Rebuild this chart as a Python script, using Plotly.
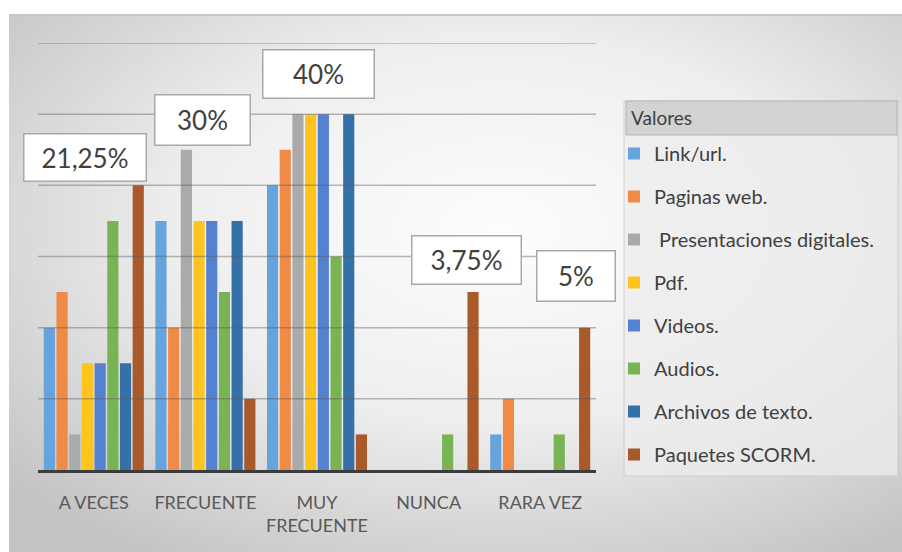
import base64
import plotly.graph_objects as go

categories = ["A VECES", "FRECUENTE", "MUY<br>FRECUENTE", "NUNCA", "RARA VEZ"]

link_url = [4, 7, 8, 0, 1]
paginas_web = [5, 4, 9, 0, 2]
presentaciones = [1, 9, 10, 0, 0]
pdf = [3, 7, 10, 0, 0]
videos = [3, 7, 10, 0, 0]
audios = [7, 5, 6, 1, 1]
archivos_texto = [3, 7, 10, 0, 0]
paquetes_scorm = [8, 2, 1, 5, 4]

series_names = ["Link/url.", "Paginas web.", " Presentaciones digitales.", "Pdf.",
                "Videos.", "Audios.", "Archivos de texto.", "Paquetes SCORM."]
series_values = [link_url, paginas_web, presentaciones, pdf, videos, audios,
                 archivos_texto, paquetes_scorm]
series_colors = ["#67a3dc", "#ef8a47", "#aaaaaa", "#fdc41f",
                 "#5582d0", "#78b454", "#3570a8", "#a9592a"]

group_labels = ["21,25%", "30%", "40%", "3,75%", "5%"]

# Geometry (pixels in a 902x552 figure)
W, H = 902, 552
L, R, T, B = 38, 306, 43, 82
PW, PH = W - L - R, H - T - B


def px(x):
    return (x - L) / PW


def py(y):
    return (H - B - y) / PH


fig = go.Figure()
for name, vals, col in zip(series_names, series_values, series_colors):
    fig.add_trace(go.Bar(
        x=categories, y=vals, name=name, marker_color=col,
        marker_line_width=0, legendgroup=name,
    ))

# background gradient
svg = ("<svg xmlns='http://www.w3.org/2000/svg' width='893' height='538' preserveAspectRatio='none'>"
       "<defs><radialGradient id='g' cx='55%' cy='40%' r='72%'>"
       "<stop offset='0' stop-color='#fdfdfd'/><stop offset='0.5' stop-color='#eeeeee'/>"
       "<stop offset='1' stop-color='#c4c4c4'/></radialGradient></defs>"
       "<rect width='100%' height='100%' fill='url(#g)'/>"
       "<rect width='100%' height='2' fill='#c6c6c6'/></svg>")
src = "data:image/svg+xml;base64," + base64.b64encode(svg.encode()).decode()
fig.add_layout_image(dict(source=src, xref="paper", yref="paper",
                          x=px(9), y=py(14), sizex=(W - 9) / PW, sizey=(H - 14) / PH,
                          xanchor="left", yanchor="top", sizing="stretch", layer="below"))

shapes = []
# gridlines above bars (semi-transparent)
for v in range(2, 13, 2):
    shapes.append(dict(type="line", xref="paper", yref="y", x0=0, x1=1, y0=v, y1=v,
                       line=dict(color="rgba(90,90,90,0.42)", width=1.5), layer="above"))
# legend panel
shapes.append(dict(type="rect", xref="paper", yref="paper",
                   x0=px(624), x1=px(898), y0=py(476), y1=py(101),
                   fillcolor="rgba(236,236,236,0.75)", line=dict(color="rgba(200,200,200,0.8)", width=1),
                   layer="below"))
shapes.append(dict(type="rect", xref="paper", yref="paper",
                   x0=px(626), x1=px(897), y0=py(135), y1=py(101),
                   fillcolor="#d2d2d2", line=dict(color="#b4b4b4", width=1), layer="below"))
fig.update_layout(shapes=shapes)

annotations = []
boxes = [(85, 157, 121, 46), (202, 120, 94, 49), (318, 74, 110, 47),
         (466, 260, 108, 47), (576, 276, 77, 49)]
for txt, (cx, cy, bw, bh) in zip(group_labels, boxes):
    annotations.append(dict(text=txt, xref="paper", yref="paper", x=px(cx), y=py(cy),
                            xanchor="center", yanchor="middle", showarrow=False,
                            width=bw, height=bh, borderpad=0,
                            bgcolor="#ffffff", bordercolor="#a9a9a9", borderwidth=1.5,
                            font=dict(family="Lato", size=26, color="#404040")))
annotations.append(dict(text="Valores", xref="paper", yref="paper", x=px(629), y=py(118),
                        xanchor="left", yanchor="middle", showarrow=False,
                        font=dict(family="Lato", size=19, color="#404040")))
fig.update_layout(annotations=annotations)

fig.update_layout(
    width=W, height=H,
    margin=dict(l=L, r=R, t=T, b=B),
    paper_bgcolor="#ffffff", plot_bgcolor="rgba(0,0,0,0)",
    barmode="group", bargap=0.09, bargroupgap=0.12,
    font=dict(family="Lato", color="#595959"),
    showlegend=True,
    legend=dict(x=px(614), y=py(134), xanchor="left", yanchor="top",
                bgcolor="rgba(0,0,0,0)", borderwidth=0,
                font=dict(family="Lato", size=20, color="#404040"),
                tracegroupgap=14, itemwidth=30),
    xaxis=dict(showgrid=False, showline=True, linecolor="#3c3c3c", linewidth=3,
               layer="above traces", ticks="outside", ticklen=14,
               tickcolor="rgba(0,0,0,0)", tickfont=dict(family="Lato", size=18, color="#595959"),
               fixedrange=True),
    yaxis=dict(range=[0, 12], dtick=2, showgrid=False, showticklabels=False,
               zeroline=False, showline=False, fixedrange=True),
)

fig.write_html("out.html", config={"displayModeBar": False},
               post_script="document.body.style.margin='0';")
